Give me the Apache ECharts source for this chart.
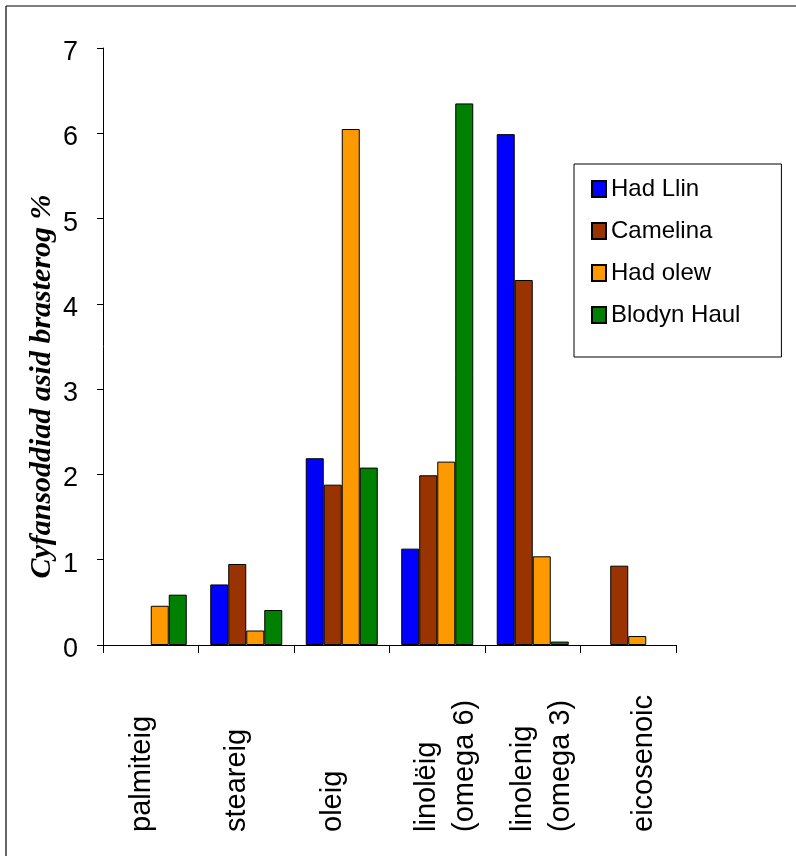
<!DOCTYPE html>
<html>
<head>
<meta charset="utf-8">
<script src="https://cdn.jsdelivr.net/npm/echarts@6/dist/echarts.min.js"></script>
<style>
html,body{margin:0;padding:0;background:#fff;}
#chart{width:796px;height:856px;}
</style>
</head>
<body>
<div id="chart"></div>
<script>
const categories = ['palmiteig', 'steareig', 'oleig', 'linolëig\n(omega 6)', 'linolenig\n(omega 3)', 'eicosenoic'];
const seriesNames = ['Had Llin', 'Camelina', 'Had olew', 'Blodyn Haul'];
const hadLlin = ['-', 0.71, 2.19, 1.13, 5.99, '-'];
const camelina = ['-', 0.95, 1.88, 1.99, 4.28, 0.93];
const hadOlew = [0.46, 0.17, 6.05, 2.15, 1.04, 0.105];
const blodynHaul = [0.59, 0.41, 2.08, 6.35, 0.04, '-'];
const yTicks = [0, 1, 2, 3, 4, 5, 6, 7];
const yTitle = 'Cyfansoddiad asid brasterog %';

const colors = ['#0000FF', '#993300', '#FF9900', '#008000'];
const FONT = '"Liberation Sans", Arial, sans-serif';
// style: label token paddings (shift each rotated label sideways as in the original)
const labelPads = [[0, 0, 18, 0], [0, 0, 18, 0], [0, 0, 18, 0], [18, 0, 0, 0], [18, 0, 0, 0], [32, 0, 0, 0]];

const rich = {};
labelPads.forEach((p, i) => {
  rich['s' + i] = {fontFamily: FONT, fontSize: 29, color: '#000', lineHeight: 38, padding: p, align: 'left'};
});

const chart = echarts.init(document.getElementById('chart'), null, {renderer: 'canvas'});
const allData = [hadLlin, camelina, hadOlew, blodynHaul];

chart.setOption({
  backgroundColor: '#fff',
  animation: false,
  color: colors,
  graphic: [
    {type: 'line', shape: {x1: 6, y1: 6, x2: 796, y2: 6}, style: {stroke: '#000', lineWidth: 1.2}},
    {type: 'line', shape: {x1: 6, y1: 6, x2: 6, y2: 856}, style: {stroke: '#000', lineWidth: 1.2}}
  ],
  grid: {left: 103, right: 120, top: 48, bottom: 211, containLabel: false, outerBoundsMode: 'none'},
  legend: {
    orient: 'vertical',
    left: 574, top: 164,
    data: seriesNames,
    icon: 'rect',
    itemWidth: 14, itemHeight: 16,
    itemGap: 18,
    padding: [13, 41, 30, 17],
    borderColor: '#000', borderWidth: 1,
    textStyle: {fontFamily: FONT, fontSize: 24, color: '#000'}
  },
  xAxis: {
    type: 'category',
    data: categories,
    axisLine: {lineStyle: {color: '#000', width: 1}},
    axisTick: {show: true, length: 8, lineStyle: {color: '#000'}},
    axisLabel: {
      interval: 0,
      rotate: 90,
      margin: 20,
      width: 167,
      fontFamily: FONT,
      fontSize: 29,
      color: '#000',
      formatter: (value, idx) => value.split('\n').map(l => '{s' + idx + '|' + l + '}').join('\n'),
      rich: rich
    },
    splitLine: {show: false}
  },
  yAxis: {
    type: 'value',
    min: yTicks[0], max: yTicks[yTicks.length - 1], interval: 1,
    name: yTitle,
    nameLocation: 'middle',
    nameRotate: 90,
    nameGap: 46,
    nameMoveOverlap: false,
    nameTextStyle: {
      fontFamily: '"Liberation Serif", "Times New Roman", serif',
      fontStyle: 'italic', fontWeight: 'bold', fontSize: 30, color: '#000',
      padding: [0, 80, 0, 0]
    },
    axisLine: {show: true, lineStyle: {color: '#000', width: 1}},
    axisTick: {show: true, length: 6, lineStyle: {color: '#000'}},
    axisLabel: {
      fontFamily: FONT, fontSize: 27, color: '#000', margin: 25,
      formatter: v => '{v|' + v + '}',
      rich: {v: {fontFamily: FONT, fontSize: 27, color: '#000', padding: [9, 0, 0, 0]}}
    },
    splitLine: {show: false}
  },
  series: seriesNames.map((n, i) => ({
    name: n,
    type: 'bar',
    data: allData[i],
    barGap: '0%',
    barCategoryGap: '24.6%',
    itemStyle: {color: colors[i], borderColor: '#000', borderWidth: 1}
  }))
});
</script>
</body>
</html>
